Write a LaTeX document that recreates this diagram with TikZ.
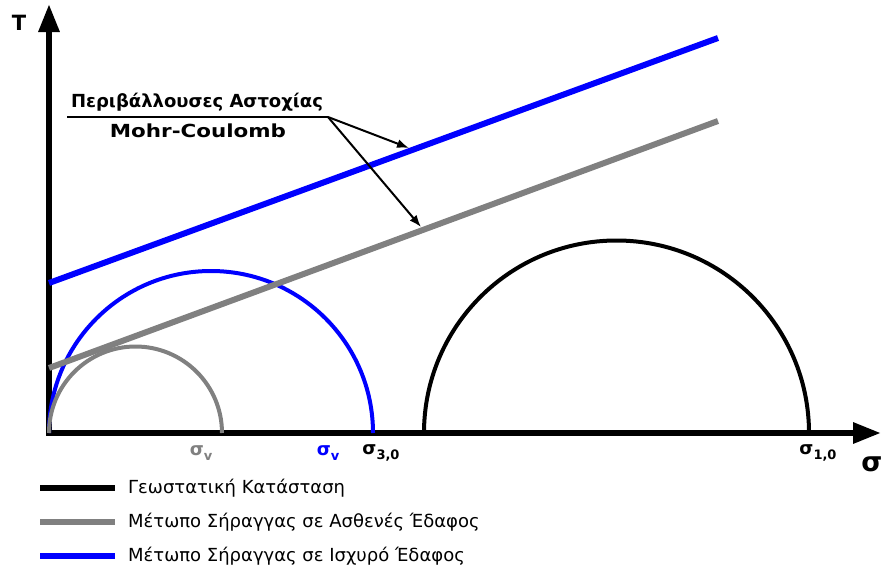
\documentclass[tikz,border=0pt]{standalone}
\usepackage{fontspec}
\setmainfont{DejaVu Sans}
\usetikzlibrary{arrows.meta}
\definecolor{myblue}{RGB}{0,0,255}
\definecolor{mygray}{RGB}{128,128,128}
\newcommand{\sigl}[1]{σ\raisebox{-5pt}{\fontsize{13}{13}\selectfont #1}}
\begin{document}
\begin{tikzpicture}[x=1pt,y=-1pt,
  axis/.style={line width=6pt,{Triangle[length=28pt,width=20pt]}-{Triangle[length=28pt,width=20pt]}},
  circ/.style={line width=4pt},
  env/.style={line width=6pt},
  pointer/.style={line width=2pt,-{Latex[length=12pt,width=9pt]}},
  lbl/.style={font=\bfseries\fontsize{18}{20}\selectfont, inner sep=0pt},
  siglbl/.style={font=\bfseries\fontsize{18}{20}\selectfont, inner sep=0pt},
  leg/.style={font=\fontsize{18}{20}\selectfont, anchor=west, inner sep=0pt},
  legline/.style={line width=6pt}]
\useasboundingbox (0,0) rectangle (883,576);
% axes
\coordinate (O) at (49,433);
\coordinate (Ytip) at (49,4);
\coordinate (Xtip) at (881,433);
\draw[axis] (Ytip) -- (O) -- (Xtip);
\node[font=\bfseries\fontsize{21}{22}\selectfont, inner sep=0pt] (T) at (19,23) {T};
\node[font=\bfseries\fontsize{27}{28}\selectfont, inner sep=0pt] (S) at (872,464) {σ};
% envelopes
\coordinate (g1) at (49,368);
\coordinate (g2) at (718,121);
\coordinate (b1) at (49,283);
\coordinate (b2) at (718,38);
% circles
\draw[circ, black] (424,433) arc[start angle=180, end angle=0, radius=192.5pt];
\draw[circ, myblue] (49,433) arc[start angle=180, end angle=0, radius=162pt];
\draw[env, mygray] (g1) -- (g2);
\draw[circ, mygray] (49,433) arc[start angle=180, end angle=0, radius=86.5pt];
\draw[env, myblue] (b1) -- (b2);
% label and pointers
\node[lbl] (title) at (197,102) {Περιβάλλουσες Αστοχίας};
\node[lbl] (mc) at (198,131) {\scalebox{1.19}[1]{Mohr-Coulomb}};
\coordinate (ul1) at (67,117);
\coordinate (ul2) at (328,117);
\draw[line width=2.5pt] (ul1) -- (ul2);
\coordinate (pb) at (409,148);
\coordinate (pg) at (421,227);
\draw[pointer] (ul2) -- (pb);
\draw[pointer] (ul2) -- (pg);
% sigma labels
\node[siglbl, mygray] (sv1) at (201,453) {\sigl{v}};
\node[siglbl, myblue] (sv2) at (328,453) {\sigl{v}};
\node[siglbl] (s30) at (381,453) {\sigl{3,0}};
\node[siglbl] (s10) at (818,453) {\sigl{1,0}};
% legend
\draw[legline, black] (40,488) -- (115,488);
\draw[legline, mygray] (40,522) -- (115,522);
\draw[legline, myblue] (40,556) -- (115,556);
\node[leg] (l1) at (128,488) {Γεωστατική Κατάσταση};
\node[leg] (l2) at (128,522) {Μέτωπο Σήραγγας σε Ασθενές Έδαφος};
\node[leg] (l3) at (128,556) {Μέτωπο Σήραγγας σε Ισχυρό Έδαφος};
\end{tikzpicture}
\end{document}
